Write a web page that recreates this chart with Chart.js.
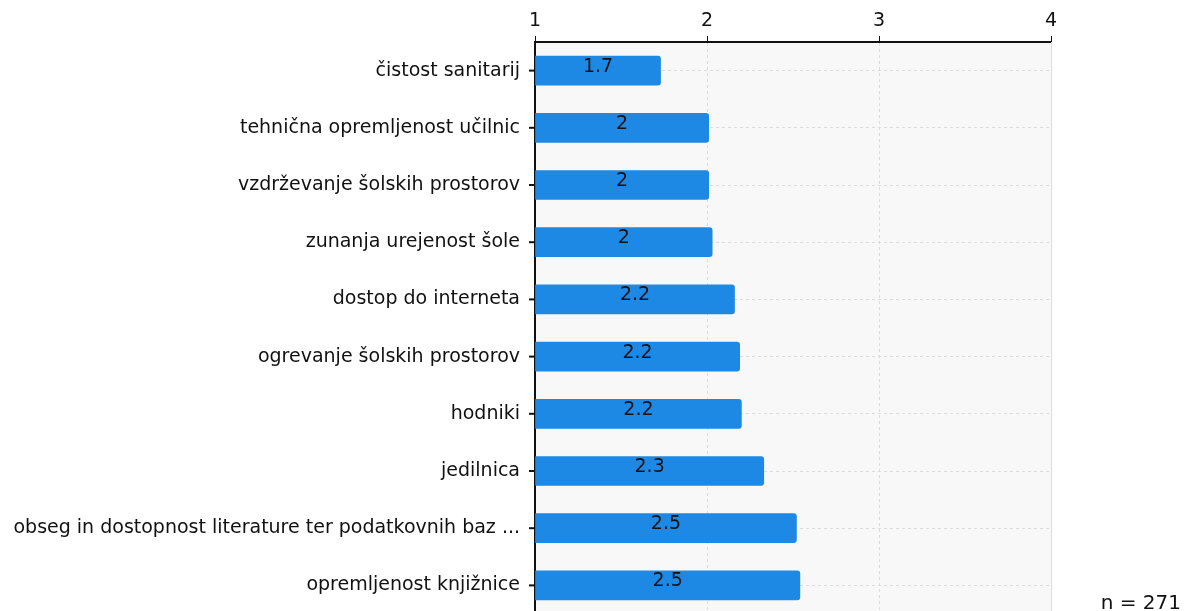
<!DOCTYPE html>
<html>
<head>
<meta charset="utf-8">
<script src="https://cdn.jsdelivr.net/npm/chart.js@4"></script>
<style>
  html, body { margin: 0; padding: 0; background: #fff; overflow: hidden; }
  #wrap { width: 1184px; height: 611px; overflow: hidden; }
</style>
</head>
<body>
<div id="wrap"><canvas id="chart" width="1184" height="614"></canvas></div>
<script>
const categories = [
    'čistost sanitarij',
    'tehnična opremljenost učilnic',
    'vzdrževanje šolskih prostorov',
    'zunanja urejenost šole',
    'dostop do interneta',
    'ogrevanje šolskih prostorov',
    'hodniki',
    'jedilnica',
    'obseg in dostopnost literature ter podatkovnih baz ...',
    'opremljenost knjižnice'
];
const values = [1.73, 2.01, 2.01, 2.03, 2.16, 2.19, 2.2, 2.33, 2.52, 2.54];
const scaleTicks = [1, 2, 3, 4];
const sampleSize = 271;

const FONT = '"DejaVu Sans", Verdana, sans-serif';

const fmt = v => String(Number(v.toFixed(1)));

const decor = {
    id: 'decor',
    beforeDraw(chart) {
        const { ctx, chartArea: a } = chart;
        ctx.save();
        ctx.fillStyle = '#f8f8f8';
        ctx.fillRect(a.left, a.top, a.right - a.left, a.bottom - a.top);
        ctx.restore();
    },
    afterDatasetsDraw(chart) {
        const { ctx, chartArea: a } = chart;
        ctx.save();
        // right border of plot
        ctx.strokeStyle = '#dddddd';
        ctx.lineWidth = 1;
        ctx.beginPath();
        ctx.moveTo(a.right + 0.5, a.top);
        ctx.lineTo(a.right + 0.5, a.bottom);
        ctx.stroke();
        // short black ticks left of the category axis
        ctx.strokeStyle = '#111';
        ctx.lineWidth = 2;
        chart.getDatasetMeta(0).data.forEach(bar => {
            ctx.beginPath();
            ctx.moveTo(a.left - 6, bar.y);
            ctx.lineTo(a.left, bar.y);
            ctx.stroke();
        });
        // value labels
        ctx.font = '19px ' + FONT;
        ctx.fillStyle = '#111';
        ctx.textAlign = 'center';
        ctx.textBaseline = 'middle';
        chart.getDatasetMeta(0).data.forEach((bar, i) => {
            ctx.fillText(fmt(values[i]), (bar.base + bar.x) / 2, bar.y - 4);
        });
        // sample size
        ctx.font = '20px ' + FONT;
        ctx.textAlign = 'right';
        ctx.fillText('n = ' + sampleSize, 1181, 604);
        ctx.restore();
    }
};

new Chart(document.getElementById('chart'), {
    type: 'bar',
    data: {
        labels: categories,
        datasets: [{
            data: values,
            base: 1,
            backgroundColor: '#1e88e5',
            borderRadius: 3,
            barThickness: 29
        }]
    },
    options: {
        indexAxis: 'y',
        responsive: false,
        animation: false,
        layout: { padding: { right: 133, left: 0, top: 0, bottom: 0 } },
        plugins: { legend: { display: false }, tooltip: { enabled: false } },
        scales: {
            x: {
                position: 'top',
                min: 1,
                max: 4,
                afterBuildTicks: s => { s.ticks = scaleTicks.map(v => ({ value: v })); },
                afterFit: s => { s.height = 42; },
                ticks: {
                    color: '#111',
                    font: { family: FONT, size: 19 },
                    padding: 4
                },
                grid: {
                    color: '#dcdcdc',
                    tickColor: '#111',
                    tickLength: 6,
                    tickBorderDash: []
                },
                border: { color: '#111', width: 2, dash: [3, 3] }
            },
            y: {
                afterFit: s => { s.width = 535; s.paddingTop = 0; s.paddingBottom = 0; },
                ticks: {
                    color: '#111',
                    font: { family: FONT, size: 19 },
                    padding: 9,
                    autoSkip: false
                },
                grid: {
                    offset: false,
                    color: '#dcdcdc',
                    tickColor: '#111',
                    tickLength: 6,
                    tickBorderDash: []
                },
                border: { color: '#111', width: 2, dash: [3, 3] }
            }
        }
    },
    plugins: [decor]
});
</script>
</body>
</html>
